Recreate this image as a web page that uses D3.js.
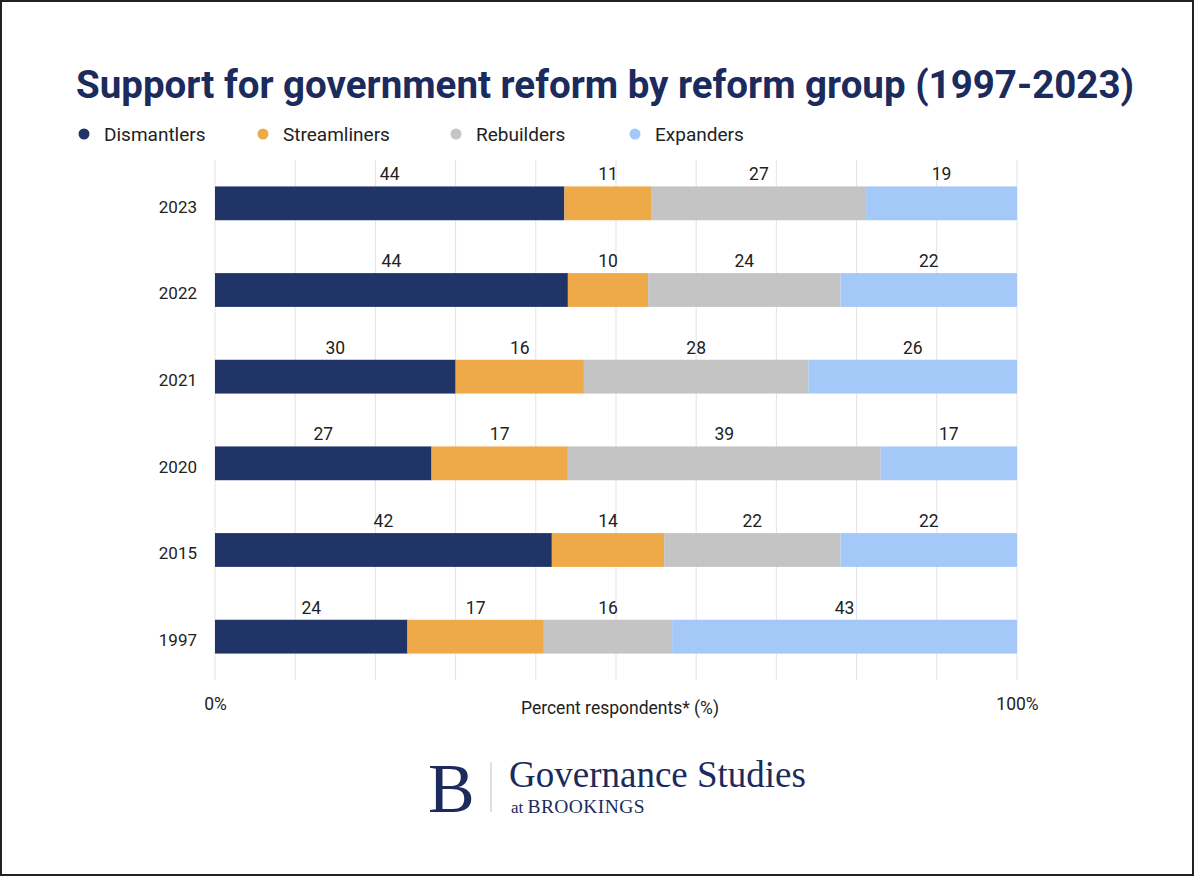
<!DOCTYPE html>
<html><head><meta charset="utf-8">
<script src="https://cdn.jsdelivr.net/npm/d3@7/dist/d3.min.js"></script>
<style>
html,body{margin:0;padding:0;background:#fff;}
svg{display:block;}
</style></head>
<body>
<svg id="chart" width="1194" height="876"></svg>
<script>
const years = ["2023","2022","2021","2020","2015","1997"];
const groups = ["Dismantlers","Streamliners","Rebuilders","Expanders"];
const dismantlers = [44,44,30,27,42,24];
const streamliners = [11,10,16,17,14,17];
const rebuilders = [27,24,28,39,22,16];
const expanders = [19,22,26,17,22,43];
const colors = ["#203468","#eeaa48","#c4c4c4","#a4c8f8"];
const xTicks = [0,0.1,0.2,0.3,0.4,0.5,0.6,0.7,0.8,0.9,1];

const series = [dismantlers, streamliners, rebuilders, expanders];
const rows = years.map((y,i)=>{
  const r = {year:y};
  groups.forEach((g,j)=>r[g]=series[j][i]);
  return r;
});
const stacked = d3.stack().keys(groups).offset(d3.stackOffsetExpand)(rows);

const svg = d3.select("#chart");
const W=1194,H=876;
svg.append("rect").attr("x",1).attr("y",1).attr("width",W-2).attr("height",H-2)
  .attr("fill","#fff").attr("stroke","#222").attr("stroke-width",2);

const x = d3.scaleLinear().domain([0,1]).range([215,1017]);
const y = d3.scaleBand().domain(years).range([160,680]).paddingInner(0.61).paddingOuter(0.305);

// title
svg.append("text").attr("x",605).attr("y",98).attr("text-anchor","middle")
  .attr("font-family","Roboto").attr("font-weight",700).attr("font-size",38.5)
  .attr("fill","#1b2b5d").text("Support for government reform by reform group (1997-2023)");

// legend
const legX=[84,263,456,635];
const leg = svg.append("g");
groups.forEach((g,i)=>{
  leg.append("circle").attr("cx",legX[i]).attr("cy",134).attr("r",5.5).attr("fill",colors[i]);
  leg.append("text").attr("x",legX[i]+20).attr("y",141).attr("font-family","Roboto")
    .attr("font-size",19).attr("fill","#222").text(g);
});

// grid
svg.append("g").selectAll("line").data(xTicks).join("line")
  .attr("x1",d=>x(d)).attr("x2",d=>x(d)).attr("y1",160).attr("y2",680)
  .attr("stroke","#e3e3e3").attr("stroke-width",1);

// bars
const layer = svg.append("g").selectAll("g").data(stacked).join("g")
  .attr("fill",(d,i)=>colors[i]);
layer.selectAll("rect").data(d=>d).join("rect")
  .attr("x",d=>x(d[0])).attr("width",d=>x(d[1])-x(d[0]))
  .attr("y",d=>y(d.data.year)).attr("height",y.bandwidth());

// value labels
const lab = svg.append("g").selectAll("g").data(stacked).join("g");
lab.selectAll("text").data(d=>d.map(v=>({v, key:d.key}))).join("text")
  .attr("x",d=>x((d.v[0]+d.v[1])/2)).attr("y",d=>y(d.v.data.year)-6)
  .attr("text-anchor","middle").attr("font-family","Roboto").attr("font-size",17.5)
  .attr("fill","#222").text(d=>d.v.data[d.key]);

// y axis labels
const yAxis = d3.axisLeft(y).tickSize(0).tickPadding(18);
const yg = svg.append("g").attr("transform","translate(215,4)").call(yAxis);
yg.select(".domain").remove();
yg.selectAll("text").attr("font-family","Roboto").attr("font-size",17).attr("fill","#222");

// x axis ends
const xAxis = d3.axisBottom(x).tickValues([0,1]).tickSize(0).tickPadding(0).tickFormat(d3.format(".0%"));
const xg = svg.append("g").attr("transform","translate(0,698)").call(xAxis);
xg.select(".domain").remove();
xg.selectAll("text").attr("font-family","Roboto").attr("font-size",17.5).attr("fill","#222");
svg.append("text").attr("x",620).attr("y",714).attr("text-anchor","middle")
  .attr("font-family","Roboto").attr("font-size",17.5).attr("fill","#222").text("Percent respondents* (%)");

// logo
const logo = svg.append("g").attr("fill","#1c2a5c").attr("font-family","Liberation Serif, DejaVu Serif, serif");
logo.append("text").attr("x",428).attr("y",812).attr("font-size",70).text("B");
svg.append("line").attr("x1",491).attr("x2",491).attr("y1",762).attr("y2",812).attr("stroke","#ccc").attr("stroke-width",1.2);
logo.append("text").attr("x",509).attr("y",787).attr("font-size",37).text("Governance Studies");
const at = logo.append("text").attr("x",511).attr("y",813);
at.append("tspan").attr("font-size",17).text("at ");
at.append("tspan").attr("font-size",19.5).attr("letter-spacing",0.4).text("BROOKINGS");
</script>
</body></html>
